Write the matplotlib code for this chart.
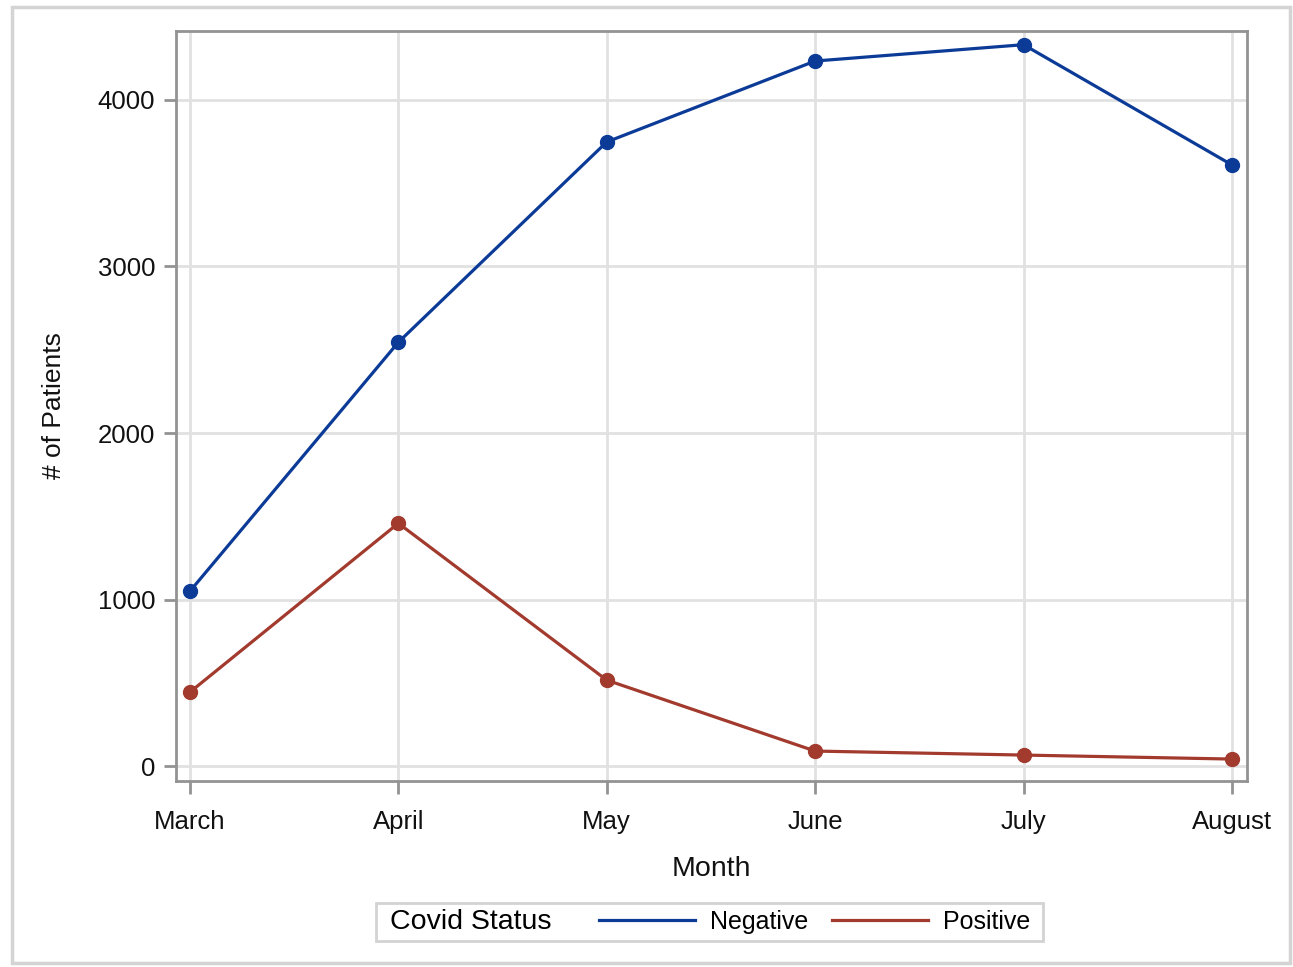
import matplotlib.pyplot as plt
from matplotlib.lines import Line2D
from matplotlib.patches import Rectangle
from matplotlib.offsetbox import DrawingArea

plt.rcParams["font.family"] = ["Liberation Sans", "DejaVu Sans"]

# --- data ---
months = ["March", "April", "May", "June", "July", "August"]
negative = [1050, 2545, 3748, 4234, 4332, 3610]
positive = [444, 1458, 516, 90, 66, 42]

blue = "#0b3b97"
red = "#a23a2e"
axis_gray = "#939393"
grid_gray = "#e1e1e1"

fig = plt.figure(figsize=(12.93, 9.67), dpi=100)
ax = fig.add_axes([0.1361, 0.1923, 0.8283, 0.7756])

x = list(range(len(months)))
ax.plot(x, negative, color=blue, linewidth=2.3, marker="o", markersize=10, label="Negative", zorder=3)
ax.plot(x, positive, color=red, linewidth=2.3, marker="o", markersize=10, label="Positive", zorder=3)

# --- axes styling ---
ax.set_xlim(-0.067, 5.072)
ax.set_ylim(-90, 4414)
ax.set_xticks(x)
ax.set_xticklabels(months)
ax.set_yticks([0, 1000, 2000, 3000, 4000])
ax.grid(color=grid_gray, linewidth=2)
ax.set_axisbelow(True)
for s in ax.spines.values():
    s.set_color(axis_gray)
    s.set_linewidth(2)
ax.tick_params(axis="both", colors=axis_gray, width=2, length=9, labelsize=18.5, labelcolor="#111111")
ax.tick_params(axis="x", pad=12)
ax.tick_params(axis="y", pad=6)

ax.set_xlabel("Month", fontsize=20.5, color="#111111", labelpad=16)
ax.set_ylabel("# of Patients", fontsize=19, color="#111111", labelpad=23)

# --- legend with title on the left ---
handles = [Line2D([], [], color=blue, linewidth=2.3), Line2D([], [], color=red, linewidth=2.3)]
leg = fig.legend(handles, ["Negative", "Positive"], title="Covid Status", ncol=2,
                 loc="center", bbox_to_anchor=(0.549, 0.0465), fontsize=18,
                 title_fontsize=20.5, frameon=True, fancybox=False, handlelength=3.85,
                 handletextpad=0.6, columnspacing=0.0, borderpad=0.25)
leg.get_frame().set_edgecolor("#c8c8c8")
leg.get_frame().set_linewidth(2)
vbox = leg.get_children()[0]
title_box = vbox.get_children()[0]
hbox = vbox.get_children()[1]
col1, col2 = hbox.get_children()
vbox._children = [hbox]
hbox._children = [DrawingArea(0, 1), title_box, DrawingArea(24.5, 1), col1,
                  DrawingArea(6.5, 1), col2, DrawingArea(0, 1)]
hbox.sep = 5

# outer border
fig.patches.append(Rectangle((0.0093, 0.004), 0.988, 0.9887, transform=fig.transFigure,
                             fill=False, edgecolor="#d4d4d4", linewidth=2.5))

fig.savefig("out.png", dpi=100)
